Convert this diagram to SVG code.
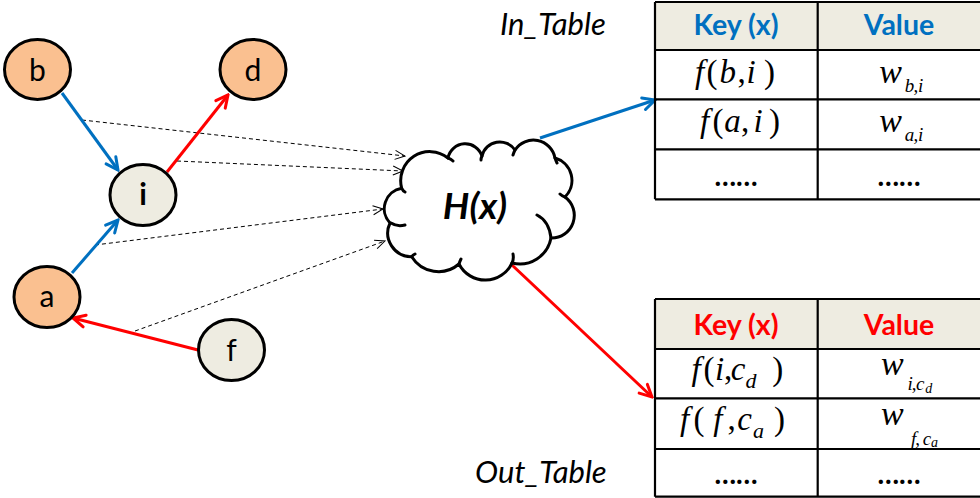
<svg xmlns="http://www.w3.org/2000/svg" width="980" height="498" viewBox="0 0 980 498">
  <defs>
    <style>
      .node { stroke: #000; stroke-width: 3; }
      .src { fill: #FAC090; }
      .mid { fill: #EEECE1; }
      .lbl { font-family: Lato, "Liberation Sans", sans-serif; font-size: 30px; fill: #000; text-anchor: middle; }
      .blue { stroke: #0070C0; stroke-width: 3; fill: none; }
      .red { stroke: #FF0000; stroke-width: 3; fill: none; }
      .dash { stroke: #000; stroke-width: 1; stroke-dasharray: 4 3; fill: none; }
      .cloud { fill: #fff; stroke: #000; stroke-width: 3; stroke-linejoin: round; }
      .tail { fill: none; stroke: #000; stroke-width: 3; stroke-linecap: round; }
      .grid { stroke: #000; stroke-width: 2.2; fill: none; }
      .hdr { fill: #EEECE1; }
      .head { font-family: Lato, "Liberation Sans", sans-serif; font-size: 28.5px; font-weight: bold; text-anchor: middle; }
      .math { font-family: "Liberation Serif", "Times New Roman", serif; font-size: 33px; fill: #000; }
      .it { font-style: italic; }
      .w { font-size: 34px; }
      .sub { font-size: 19px; }
      .sub2 { font-size: 14px; }
      .dots { font-family: Lato, "Liberation Sans", sans-serif; font-size: 28px; font-weight: bold; text-anchor: middle; }
      .cap { font-family: Lato, "Liberation Sans", sans-serif; font-size: 31px; font-style: italic; fill: #000; }
    </style>
    <marker id="hBlue" markerUnits="userSpaceOnUse" viewBox="0 0 16 16" refX="14" refY="8" markerWidth="16" markerHeight="16" orient="auto">
      <path d="M2,2 L14,8 L2,14" fill="none" stroke="#0070C0" stroke-width="3" stroke-linecap="round" stroke-linejoin="miter"/>
    </marker>
    <marker id="hRed" markerUnits="userSpaceOnUse" viewBox="0 0 16 16" refX="14" refY="8" markerWidth="16" markerHeight="16" orient="auto">
      <path d="M2,2 L14,8 L2,14" fill="none" stroke="#FF0000" stroke-width="3" stroke-linecap="round" stroke-linejoin="miter"/>
    </marker>
    <marker id="hThin" markerUnits="userSpaceOnUse" viewBox="0 0 12 12" refX="11" refY="6" markerWidth="12" markerHeight="12" orient="auto">
      <path d="M1,1.5 L11,6 L1,10.5" fill="none" stroke="#000" stroke-width="1"/>
    </marker>
  </defs>

  <rect width="980" height="498" fill="#fff"/>

  <!-- connectors -->
  <g id="connectors">
    <path class="dash" d="M82,120 L405,156" marker-end="url(#hThin)"/>
    <path class="dash" d="M177,161 L403,171" marker-end="url(#hThin)"/>
    <path class="dash" d="M95,245 L383,209" marker-end="url(#hThin)"/>
    <path class="dash" d="M135,331 L385,241" marker-end="url(#hThin)"/>
    <path class="blue" d="M62,93 L118,170" marker-end="url(#hBlue)"/>
    <path class="blue" d="M72,273 L118,220" marker-end="url(#hBlue)"/>
    <path class="red" d="M167,172 L228,95" marker-end="url(#hRed)"/>
    <path class="red" d="M198,350 L73,318" marker-end="url(#hRed)"/>
    <path class="blue" d="M540,138 L655,100" marker-end="url(#hBlue)"/>
    <path class="red" d="M512,265 L652,397" marker-end="url(#hRed)"/>
  </g>

  <!-- graph nodes -->
  <g id="node-b">
    <ellipse class="node src" cx="37.5" cy="69.5" rx="33" ry="30"/>
    <text class="lbl" x="37.5" y="81">b</text>
  </g>
  <g id="node-d">
    <ellipse class="node src" cx="253" cy="69.5" rx="33" ry="30"/>
    <text class="lbl" x="253" y="81">d</text>
  </g>
  <g id="node-i">
    <ellipse class="node mid" cx="143" cy="195" rx="33" ry="30.5"/>
    <text class="lbl" x="143" y="205" font-weight="bold">i</text>
  </g>
  <g id="node-a">
    <ellipse class="node src" cx="47" cy="297" rx="33" ry="30.5"/>
    <text class="lbl" x="47" y="307">a</text>
  </g>
  <g id="node-f">
    <ellipse class="node mid" cx="231.5" cy="350" rx="33" ry="30.5"/>
    <text class="lbl" x="231.5" y="361">f</text>
  </g>

  <!-- hash function cloud -->
  <g id="node-hash">
    <path class="cloud" d="M401.7,188.3
      A20.7,20.7 0 0 0 390,223
      A23.7,23.7 0 0 0 411.7,256.7
      A31.5,31.5 0 0 0 459,264
      A29.5,29.5 0 0 0 512,263
      A31.8,31.8 0 0 0 551,238
      A22.7,22.7 0 0 0 565,197
      A23.3,23.3 0 0 0 555,158
      A22,22 0 0 0 515,150
      A18.3,18.3 0 0 0 482,156
      A17.6,17.6 0 0 0 448,158
      A29.1,29.1 0 0 0 401.7,188.3 Z"/>
    <path class="tail" d="M391,223 Q397,227 405,225
      M401.7,188.3 Q403,191 405,192
      M411.7,256.7 Q413,255 415,254
      M459,264 Q460,261 461,259
      M512,263 Q514,259 513,254
      M551,238 Q549,221 537,215
      M565,197 Q562,196 560,194
      M555,158 Q556,161 557,163
      M515,150 Q514,152 513,155
      M482,156 Q481,158 481,160
      M448,158 Q451,159 453,161"/>
    <text x="475" y="219" font-family="Lato, 'Liberation Sans', sans-serif" font-size="37" font-weight="bold" font-style="italic" text-anchor="middle">H(x)</text>
  </g>

  <!-- incoming-edge table -->
  <g id="in-table">
    <rect class="hdr" x="655" y="2" width="340" height="48"/>
    <path class="grid" d="M655,2 H995 M655,50 H995 M655,99.3 H995 M655,149.3 H995 M655,199.3 H995 M655,2 V199.3 M817.7,2 V199.3"/>
    <text class="head" x="736" y="35" fill="#0070C0">Key (x)</text>
    <text class="head" x="899" y="35" fill="#0070C0">Value</text>
    <text class="math"><tspan class="it" x="694.9" y="83">f</tspan><tspan x="706.4" y="83">(</tspan><tspan class="it" x="719.6" y="83">b</tspan><tspan x="737.4" y="83">,</tspan><tspan class="it" x="746.4" y="83">i</tspan><tspan x="764" y="83">)</tspan></text>
    <text class="math"><tspan class="it" x="699.9" y="132">f</tspan><tspan x="712.5" y="132">(</tspan><tspan class="it" x="724.2" y="132">a</tspan><tspan x="741" y="132">,</tspan><tspan class="it" x="753.4" y="132">i</tspan><tspan x="769" y="132">)</tspan></text>
    <text class="math"><tspan class="it w" x="879.3" y="83">w</tspan><tspan class="it sub" x="904.8" y="91.5">b</tspan><tspan class="sub" x="913.5" y="91.5">,</tspan><tspan class="it sub" x="918.1" y="91.5">i</tspan></text>
    <text class="math"><tspan class="it w" x="879.3" y="132">w</tspan><tspan class="it sub" x="904.8" y="140.5">a</tspan><tspan class="sub" x="913.5" y="140.5">,</tspan><tspan class="it sub" x="918.1" y="140.5">i</tspan></text>
    <text class="dots" x="736" y="186">……</text>
    <text class="dots" x="899" y="186">……</text>
    <text class="cap" x="500" y="35">In_Table</text>
  </g>

  <!-- outgoing-edge table -->
  <g id="out-table">
    <rect class="hdr" x="655" y="299" width="340" height="50"/>
    <path class="grid" d="M655,299 H995 M655,349 H995 M655,398.3 H995 M655,449 H995 M655,496.7 H995 M655,299 V496.7 M817.7,299 V496.7"/>
    <text class="head" x="736" y="335" fill="#FF0000">Key (x)</text>
    <text class="head" x="899" y="335" fill="#FF0000">Value</text>
    <text class="math"><tspan class="it" x="691.6" y="380">f</tspan><tspan x="703.4" y="380">(</tspan><tspan class="it" x="715.1" y="380">i</tspan><tspan x="724.1" y="380">,</tspan><tspan class="it" x="730.7" y="380">c</tspan><tspan class="it" x="745.4" y="388" font-size="22">d</tspan><tspan x="772.3" y="380">)</tspan></text>
    <text class="math"><tspan class="it" x="679.9" y="430">f</tspan><tspan x="693.4" y="430">(</tspan><tspan class="it" x="713.2" y="430">f</tspan><tspan x="727.4" y="430">,</tspan><tspan class="it" x="737.3" y="430">c</tspan><tspan class="it" x="752.9" y="438" font-size="22">a</tspan><tspan x="774" y="430">)</tspan></text>
    <text class="math"><tspan class="it w" x="881" y="375">w</tspan><tspan class="it sub" x="907.4" y="389.5">i</tspan><tspan class="sub" x="911.8" y="389.5">,</tspan><tspan class="it sub" x="916.1" y="389.5">c</tspan><tspan class="it sub2" x="925.3" y="393">d</tspan></text>
    <text class="math"><tspan class="it w" x="881" y="425">w</tspan><tspan class="it sub" x="911.1" y="444.5">f</tspan><tspan class="sub" x="915.2" y="444.5">,</tspan><tspan class="it sub" x="922.7" y="444.5">c</tspan><tspan class="it sub2" x="931" y="447">a</tspan></text>
    <text class="dots" x="736" y="484">……</text>
    <text class="dots" x="899" y="484">……</text>
    <text class="cap" x="475" y="483">Out_Table</text>
  </g>
</svg>
